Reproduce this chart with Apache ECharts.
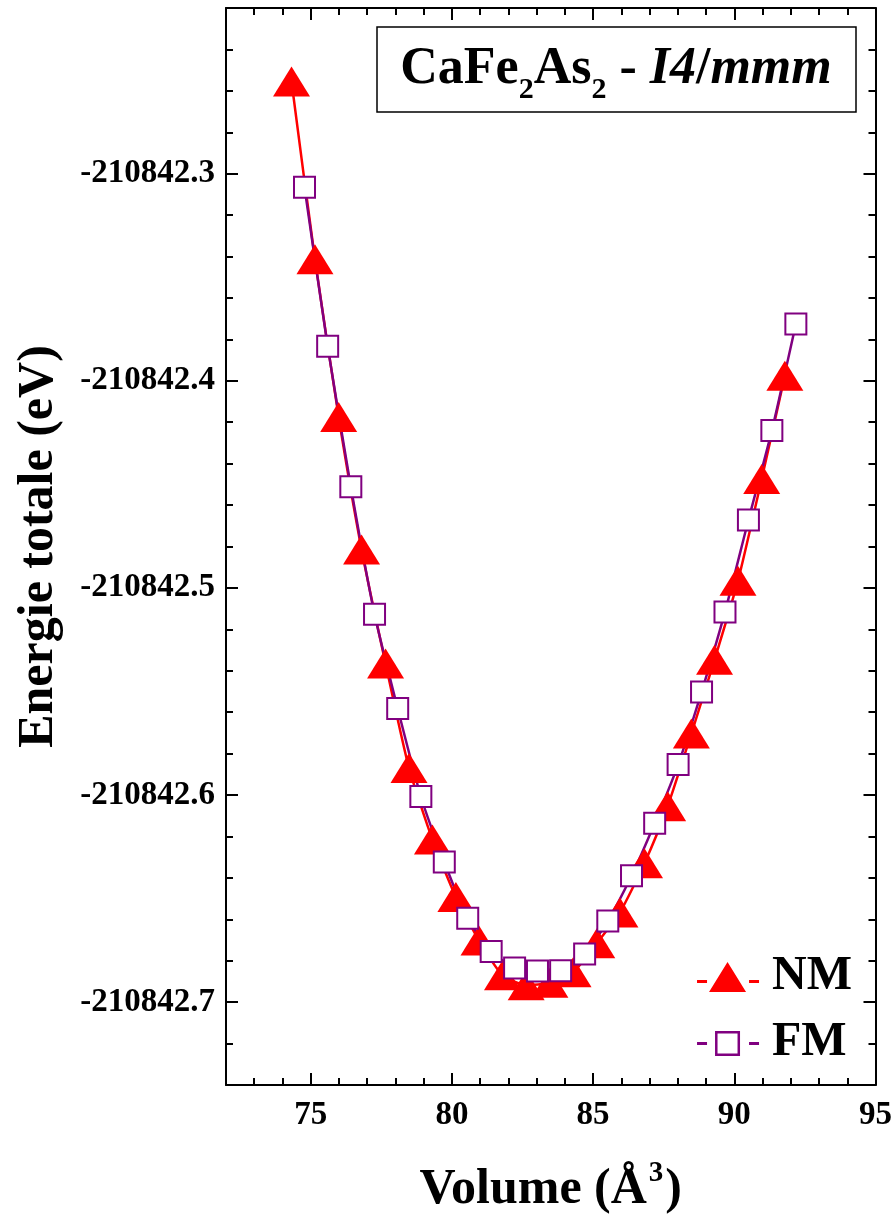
<!DOCTYPE html>
<html>
<head>
<meta charset="utf-8">
<script src="https://cdn.jsdelivr.net/npm/echarts@6/dist/echarts.min.js"></script>
<style>
html,body{margin:0;padding:0;background:#fff;}
#chart{width:895px;height:1220px;}
</style>
</head>
<body>
<div id="chart"></div>
<script>
// ---- data ----
const volNM = [74.32, 75.15, 75.99, 76.80, 77.65, 78.48, 79.31, 80.14, 80.96, 81.79, 82.63, 83.47, 84.29, 85.13, 85.95, 86.82, 87.64, 88.48, 89.30, 90.13, 90.97, 91.79];
const energyNM = [-210842.2555, -210842.3413, -210842.4175, -210842.4814, -210842.5365, -210842.5869, -210842.6215, -210842.6492, -210842.6702, -210842.6870, -210842.6918, -210842.6906, -210842.6856, -210842.6716, -210842.6567, -210842.6329, -210842.6054, -210842.5703, -210842.5347, -210842.4965, -210842.4474, -210842.3976];
const volFM = [74.78, 75.60, 76.42, 77.26, 78.08, 78.90, 79.73, 80.56, 81.39, 82.22, 83.03, 83.85, 84.70, 85.52, 86.36, 87.18, 88.01, 88.84, 89.67, 90.50, 91.33, 92.18];
const energyFM = [-210842.3066, -210842.3833, -210842.4511, -210842.5127, -210842.5582, -210842.6007, -210842.6323, -210842.6595, -210842.6755, -210842.6835, -210842.6850, -210842.6848, -210842.6768, -210842.6608, -210842.6390, -210842.6136, -210842.5853, -210842.5503, -210842.5116, -210842.4672, -210842.4240, -210842.3726];
const xTickLabels = [75, 80, 85, 90, 95];
const yTickLabels = [-210842.7, -210842.6, -210842.5, -210842.4, -210842.3];
const seriesNames = ['NM', 'FM'];

// ---- chart ----
const FONT = "'Liberation Serif', 'Times New Roman', serif";
const X_MIN = 72, X_MAX = 95, Y_MIN = -210842.74, Y_MAX = -210842.22;
const lineStyle = { color: '#000', width: 2 };

const nmData = volNM.map((v, i) => [v, energyNM[i]]);
const fmData = volFM.map((v, i) => [v, energyFM[i]]);

function xAxisDef(pos, major, withLabel, extra) {
  const a = {
    type: 'value', min: X_MIN, max: X_MAX, position: pos,
    splitLine: { show: false },
    axisLine: { show: major, onZero: false, lineStyle: lineStyle },
    axisTick: { show: true, inside: true, length: major ? 12 : 7, lineStyle: lineStyle },
    axisLabel: { show: false }
  };
  if (major) {
    a.axisTick.customValues = xTickLabels;
    a.axisLabel = withLabel ? {
      show: true, customValues: xTickLabels, margin: 14,
      fontFamily: FONT, fontWeight: 'bold', fontSize: 33, color: '#000'
    } : { show: false };
  } else {
    a.interval = 1;
  }
  return Object.assign(a, extra || {});
}
function yAxisDef(pos, major, withLabel, extra) {
  const a = {
    type: 'value', min: Y_MIN, max: Y_MAX, position: pos,
    splitLine: { show: false },
    axisLine: { show: major, onZero: false, lineStyle: lineStyle },
    axisTick: { show: true, inside: true, length: major ? 12 : 7, lineStyle: lineStyle },
    axisLabel: { show: false }
  };
  if (major) {
    a.axisTick.customValues = yTickLabels;
    a.axisLabel = withLabel ? {
      show: true, customValues: yTickLabels, margin: 11,
      formatter: v => Number(v).toFixed(1),
      fontFamily: FONT, fontWeight: 'bold', fontSize: 33, color: '#000'
    } : { show: false };
  } else {
    a.interval = 0.02;
  }
  return Object.assign(a, extra || {});
}

// legend icons: short line pieces either side of the marker (62 x 30 box)
const tiny = 'M0,0h0.01v0.01z M61.99,29.99h0.01v0.01z ';
const iconNM = 'path://' + tiny + 'M0,18h10v3h-10z M12,30L30.5,0L49,30z M52,18h10v3h-10z';
const iconFM = 'path://' + tiny + 'M0,14h10v3h-10z M52,14h10v3h-10z M18,3h25v25h-25z M20.5,5.5v20h20v-20z';

const chart = echarts.init(document.getElementById('chart'), null, { renderer: 'canvas' });
chart.setOption({
  animation: false,
  backgroundColor: '#fff',
  grid: { left: 226, right: 19, top: 8, bottom: 134, containLabel: false },
  xAxis: [
    xAxisDef('bottom', true, true, {
      name: '{m|Volume (Å}{sup|3}{m|)}', nameLocation: 'middle', nameGap: 74,
      nameTextStyle: {
        fontFamily: FONT, fontWeight: 'bold', fontSize: 50, color: '#000',
        rich: {
          m: { fontFamily: FONT, fontWeight: 'bold', fontSize: 50, color: '#000', lineHeight: 62 },
          sup: { fontFamily: FONT, fontWeight: 'bold', fontSize: 29, color: '#000', verticalAlign: 'top', lineHeight: 30, padding: [0, 2, 0, 2] }
        }
      }
    }),
    xAxisDef('bottom', false, false),
    xAxisDef('top', true, false),
    xAxisDef('top', false, false)
  ],
  yAxis: [
    yAxisDef('left', true, true, {
      name: 'Energie totale (eV)', nameLocation: 'middle', nameGap: 162,
      nameTextStyle: { fontFamily: FONT, fontWeight: 'bold', fontSize: 50, color: '#000' }
    }),
    yAxisDef('left', false, false),
    yAxisDef('right', true, false),
    yAxisDef('right', false, false)
  ],
  legend: {
    orient: 'vertical', right: 38, top: 948,
    itemWidth: 62, itemHeight: 30, itemGap: 18,
    symbolKeepAspect: false,
    data: [
      { name: seriesNames[0], icon: iconNM, itemStyle: { color: '#ff0000', borderWidth: 0 } },
      { name: seriesNames[1], icon: iconFM, itemStyle: { color: '#800080', borderWidth: 0 } }
    ],
    textStyle: { fontFamily: FONT, fontWeight: 'bold', fontSize: 48, color: '#000', padding: [0, 0, 0, 8] }
  },
  graphic: [
    { type: 'rect', shape: { x: 377, y: 27, width: 479, height: 85 },
      style: { fill: '#fff', stroke: '#000', lineWidth: 1.5 }, z: 10 },
    { type: 'text', x: 616, y: 70, z: 11,
      style: {
        text: '{b|CaFe}{s|2}{b|As}{s|2}{b| - }{i|I4}{b|/}{i|mmm}',
        align: 'center', verticalAlign: 'middle',
        rich: {
          b: { fontFamily: FONT, fontWeight: 'bold', fontSize: 52, fill: '#000', lineHeight: 70 },
          i: { fontFamily: FONT, fontWeight: 'bold', fontStyle: 'italic', fontSize: 52, fill: '#000', lineHeight: 70 },
          s: { fontFamily: FONT, fontWeight: 'bold', fontSize: 30, fill: '#000', lineHeight: 26, verticalAlign: 'bottom' }
        }
      }
    }
  ],
  series: [
    {
      name: seriesNames[0], type: 'line', data: nmData, smooth: 0.2,
      xAxisIndex: 0, yAxisIndex: 0,
      symbol: 'triangle', symbolSize: [37, 30], showAllSymbol: true,
      lineStyle: { color: '#ff0000', width: 2.5 },
      itemStyle: { color: '#ff0000' }
    },
    {
      name: seriesNames[1], type: 'line', data: fmData, smooth: 0.2,
      xAxisIndex: 0, yAxisIndex: 0,
      symbol: 'rect', symbolSize: 21, showAllSymbol: true,
      lineStyle: { color: '#800080', width: 2.5 },
      itemStyle: { color: '#ffffff', borderColor: '#800080', borderWidth: 2 }
    }
  ]
});
</script>
</body>
</html>
